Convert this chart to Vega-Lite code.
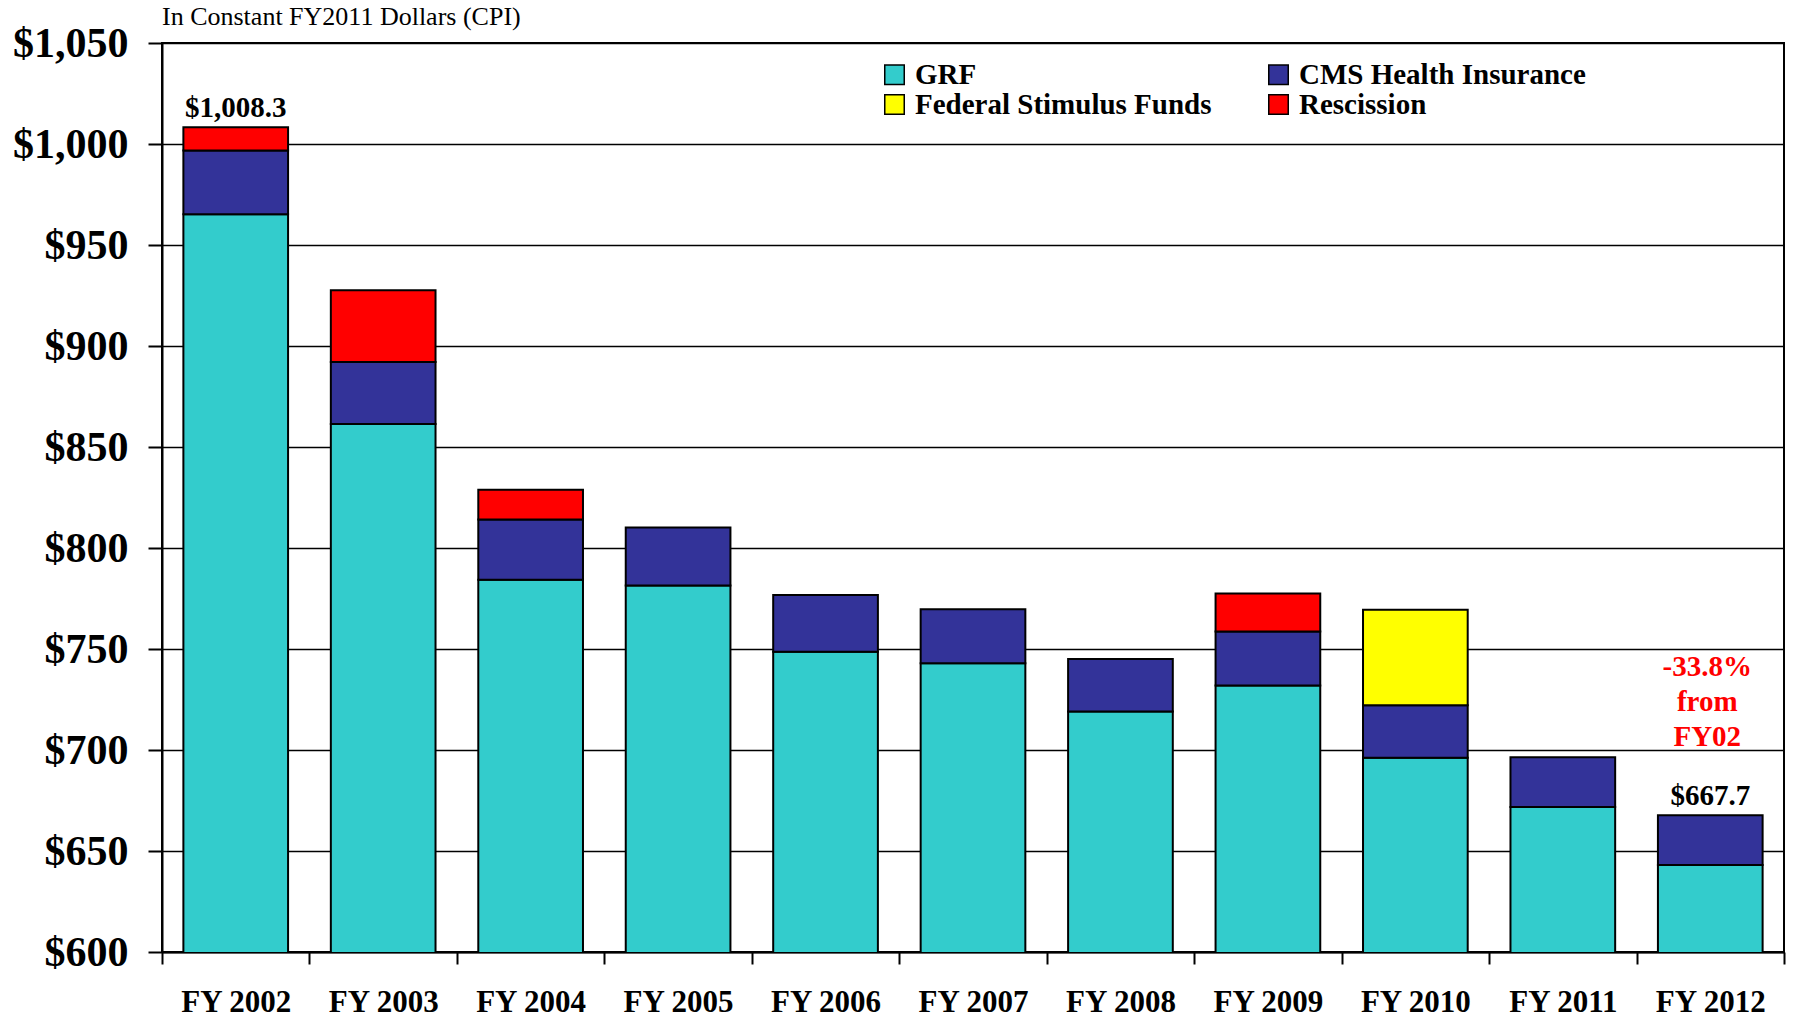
{
  "$schema": "https://vega.github.io/schema/vega-lite/v6.json",
  "autosize": "none",
  "padding": {"left": 162, "top": 43, "right": 13, "bottom": 71},
  "width": 1622,
  "height": 909,
  "background": "white",
  "view": {"stroke": "black", "strokeWidth": 2},
  "title": {
    "text": "In Constant FY2011 Dollars (CPI)",
    "anchor": "start",
    "frame": "group",
    "font": "Liberation Serif",
    "fontSize": 26,
    "fontWeight": "normal",
    "color": "black",
    "baseline": "alphabetic",
    "offset": -29
  },
  "config": {
    "axis": {
      "domainColor": "black",
      "domainWidth": 2,
      "tickColor": "black",
      "tickWidth": 2,
      "labelColor": "black",
      "labelFont": "Liberation Serif",
      "labelFontWeight": "bold",
      "title": null
    },
    "legend": {
      "labelFont": "Liberation Serif",
      "labelFontWeight": "bold",
      "labelFontSize": 29,
      "labelColor": "black",
      "labelLimit": 500
    }
  },
  "datasets": {
    "bars": [
      {"year": "FY 2002", "series": "GRF", "ord": 1, "value": 965.2},
      {"year": "FY 2002", "series": "CMS Health Insurance", "ord": 2, "value": 31.6},
      {"year": "FY 2002", "series": "Rescission", "ord": 3, "value": 11.5},
      {"year": "FY 2003", "series": "GRF", "ord": 1, "value": 861.4},
      {"year": "FY 2003", "series": "CMS Health Insurance", "ord": 2, "value": 30.7},
      {"year": "FY 2003", "series": "Rescission", "ord": 3, "value": 35.5},
      {"year": "FY 2004", "series": "GRF", "ord": 1, "value": 784.3},
      {"year": "FY 2004", "series": "CMS Health Insurance", "ord": 2, "value": 29.8},
      {"year": "FY 2004", "series": "Rescission", "ord": 3, "value": 14.7},
      {"year": "FY 2005", "series": "GRF", "ord": 1, "value": 781.4},
      {"year": "FY 2005", "series": "CMS Health Insurance", "ord": 2, "value": 28.8},
      {"year": "FY 2006", "series": "GRF", "ord": 1, "value": 748.7},
      {"year": "FY 2006", "series": "CMS Health Insurance", "ord": 2, "value": 28.0},
      {"year": "FY 2007", "series": "GRF", "ord": 1, "value": 743.0},
      {"year": "FY 2007", "series": "CMS Health Insurance", "ord": 2, "value": 26.7},
      {"year": "FY 2008", "series": "GRF", "ord": 1, "value": 719.0},
      {"year": "FY 2008", "series": "CMS Health Insurance", "ord": 2, "value": 26.1},
      {"year": "FY 2009", "series": "GRF", "ord": 1, "value": 731.9},
      {"year": "FY 2009", "series": "CMS Health Insurance", "ord": 2, "value": 26.8},
      {"year": "FY 2009", "series": "Rescission", "ord": 3, "value": 18.8},
      {"year": "FY 2010", "series": "GRF", "ord": 1, "value": 696.2},
      {"year": "FY 2010", "series": "CMS Health Insurance", "ord": 2, "value": 26.0},
      {"year": "FY 2010", "series": "Federal Stimulus Funds", "ord": 3, "value": 47.2},
      {"year": "FY 2011", "series": "GRF", "ord": 1, "value": 671.8},
      {"year": "FY 2011", "series": "CMS Health Insurance", "ord": 2, "value": 24.6},
      {"year": "FY 2012", "series": "GRF", "ord": 1, "value": 643.1},
      {"year": "FY 2012", "series": "CMS Health Insurance", "ord": 2, "value": 24.6}
    ],
    "totals": [
      {"year": "FY 2002", "total": 1008.3, "label": "$1,008.3"},
      {"year": "FY 2012", "total": 667.7, "label": "$667.7"}
    ],
    "note": [
      {"year": "FY 2012", "pos": 741.3, "text": "-33.8%|from|FY02"}
    ]
  },
  "layer": [
    {
      "data": {"name": "bars"},
      "mark": {"type": "bar", "stroke": "black", "strokeWidth": 2, "clip": true, "width": {"band": 0.71}},
      "encoding": {
        "x": {
          "field": "year",
          "type": "nominal",
          "scale": {"paddingInner": 0, "paddingOuter": 0},
          "axis": {
            "labelAngle": 0,
            "labelFontSize": 31,
            "tickBand": "extent",
            "tickSize": 12,
            "labelPadding": 23,
            "domain": true
          }
        },
        "y": {
          "field": "value",
          "type": "quantitative",
          "stack": "zero",
          "scale": {"domain": [600, 1050], "nice": false, "zero": false},
          "axis": {
            "values": [600, 650, 700, 750, 800, 850, 900, 950, 1000, 1050],
            "format": "$,.0f",
            "labelFontSize": 42,
            "tickSize": 14,
            "labelPadding": 20,
            "grid": true,
            "gridColor": "black",
            "gridWidth": 1.5,
            "gridOpacity": 1
          }
        },
        "color": {
          "field": "series",
          "type": "nominal",
          "scale": {
            "domain": ["GRF", "CMS Health Insurance", "Federal Stimulus Funds", "Rescission"],
            "range": ["#33CCCC", "#333399", "#FFFF00", "#FF0000"]
          },
          "legend": {
            "title": null,
            "orient": "none",
            "direction": "horizontal",
            "legendX": 718,
            "legendY": 17,
            "columns": 2,
            "columnPadding": 52,
            "rowPadding": 0,
            "padding": 0,
            "symbolType": "square",
            "symbolSize": 380,
            "symbolStrokeColor": "black",
            "symbolStrokeWidth": 1.5,
            "symbolOpacity": 1,
            "labelOffset": 6
          }
        },
        "order": {"field": "ord", "type": "quantitative"}
      }
    },
    {
      "data": {"name": "totals"},
      "mark": {
        "type": "text",
        "font": "Liberation Serif",
        "fontWeight": "bold",
        "fontSize": 29,
        "color": "black",
        "baseline": "alphabetic",
        "align": "center",
        "dy": -10
      },
      "encoding": {
        "x": {"field": "year", "type": "nominal"},
        "y": {"field": "total", "type": "quantitative"},
        "text": {"field": "label"}
      }
    },
    {
      "data": {"name": "note"},
      "mark": {
        "type": "text",
        "font": "Liberation Serif",
        "fontWeight": "bold",
        "fontSize": 29,
        "color": "#FF0000",
        "baseline": "middle",
        "align": "center",
        "lineBreak": "|",
        "lineHeight": 35,
        "dx": -3
      },
      "encoding": {
        "x": {"field": "year", "type": "nominal"},
        "y": {"field": "pos", "type": "quantitative"},
        "text": {"field": "text"}
      }
    }
  ]
}
